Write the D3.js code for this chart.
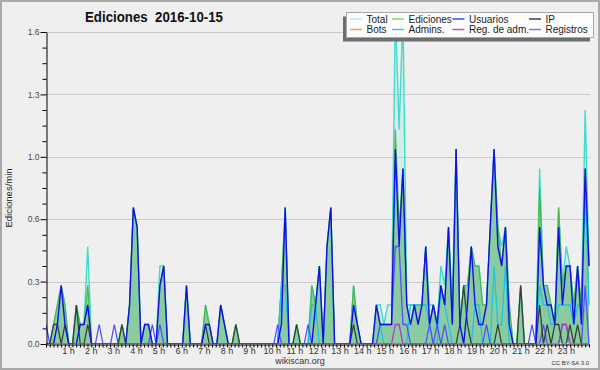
<!DOCTYPE html>
<html>
<head>
<meta charset="utf-8">
<script src="https://cdn.jsdelivr.net/npm/d3@7"></script>
<style>
body { margin: 0; background: #efeff0; }
svg { display: block; }
</style>
</head>
<body>
<div id="chart"></div>
<script>
const width = 600;
const height = 370;

// Edits counted per 10 minutes, one row per hour (0 h .. 23 h)
const total = [
  0,0,1,2,3,2,  0,0,2,1,1,5,  0,0,0,0,0,0,  0,0,1,0,2,7,
  6,0,1,1,0,0,  4,4,0,0,0,0,  0,3,0,0,0,0,  2,1,0,0,2,1,
  0,0,1,0,0,0,  0,0,0,0,0,0,  0,0,3,7,0,0,  1,0,0,0,3,2,
  4,0,5,7,0,0,  0,0,0,3,1,0,  0,0,0,2,2,1,  2,2,17,11,17,2,
  2,2,2,2,5,2,  2,1,4,3,6,2,  10,1,3,3,5,4, 4,2,2,6,10,6,
  5,6,2,0,0,3,  0,0,0,0,9,3,  3,2,1,7,3,5,  4,2,4,2,12,4
];
const ediciones = [
  0,0,1,2,3,2,  0,0,2,1,1,3,  0,0,0,0,0,0,  0,0,1,0,2,7,
  6,0,1,1,0,0,  3,4,0,0,0,0,  0,3,0,0,0,0,  2,1,0,0,2,1,
  0,0,1,0,0,0,  0,0,0,0,0,0,  0,0,3,7,0,0,  1,0,0,0,3,2,
  4,0,5,7,0,0,  0,0,0,3,1,0,  0,0,0,2,1,1,  1,1,11,6,9,2,
  1,2,2,2,5,1,  2,1,3,2,6,1,  10,1,3,3,5,4, 4,2,2,6,10,6,
  4,6,2,0,0,3,  0,0,0,0,8,3,  3,2,1,7,3,4,  4,2,4,2,9,4
];
const usuarios = [
  0,0,0,1,3,1,  0,0,0,1,1,2,  0,0,0,0,0,0,  0,0,0,0,2,7,
  6,0,1,1,0,0,  3,4,0,0,0,0,  0,3,0,0,0,0,  1,1,0,0,2,1,
  0,0,0,0,0,0,  0,0,0,0,0,0,  0,0,1,7,0,0,  0,0,0,0,0,2,
  4,0,5,7,0,0,  0,0,0,2,1,0,  0,0,0,2,1,1,  1,1,10,5,9,2,
  1,2,1,2,5,1,  2,1,3,2,6,1,  10,1,0,2,5,2, 1,1,2,6,10,5,
  4,6,1,0,0,0,  0,0,0,0,6,3,  2,2,1,6,2,4,  4,1,4,1,9,4
];
const ip = [
  0,0,1,1,0,1,  0,0,2,0,0,1,  0,0,0,0,0,0,  0,0,1,0,0,0,
  0,0,0,0,0,0,  0,0,0,0,0,0,  0,0,0,0,0,0,  1,0,0,0,0,0,
  0,0,1,0,0,0,  0,0,0,0,0,0,  0,0,0,0,0,0,  1,0,0,0,0,0,
  0,0,0,0,0,0,  0,0,0,1,0,0,  0,0,0,0,0,0,  0,0,0,0,0,0,
  0,0,0,0,0,0,  0,0,0,0,0,0,  0,1,3,1,0,0,  0,0,0,0,0,1,
  0,0,0,0,0,3,  0,0,0,0,2,0,  1,0,1,1,0,0,  1,0,1,0,0,0
];
const admins = [
  0,0,0,0,0,0,  0,0,0,0,0,0,  0,0,0,0,0,0,  0,0,0,0,0,0,
  0,0,0,0,0,0,  0,0,0,0,0,0,  0,0,0,0,0,0,  0,0,0,0,0,0,
  0,0,0,0,0,0,  0,0,0,0,0,0,  0,0,3,3,0,0,  0,0,0,0,2,2,
  0,0,0,0,0,0,  0,0,0,0,0,0,  0,0,0,0,1,0,  0,0,0,0,0,0,
  2,2,2,2,2,1,  0,0,3,2,1,0,  0,0,0,0,0,2,  2,0,0,0,4,1,
  1,4,0,0,0,0,  0,0,0,0,3,2,  2,1,1,2,2,2,  2,1,2,2,8,2
];
const regAdm = [
  0,0,0,0,0,0,  0,0,0,0,0,0,  0,0,0,0,0,0,  0,0,0,0,0,0,
  0,0,0,0,0,0,  0,0,0,0,0,0,  0,0,0,0,0,0,  0,0,0,0,0,0,
  0,0,0,0,0,0,  0,0,0,0,0,0,  0,0,0,0,0,0,  0,0,0,0,0,0,
  0,0,0,0,0,0,  0,0,0,0,0,0,  0,0,0,0,0,0,  0,0,1,1,0,0,
  0,0,0,0,0,0,  0,0,0,0,0,0,  0,0,0,0,0,0,  0,0,0,0,0,0,
  0,0,0,0,0,0,  0,0,0,0,0,0,  0,0,0,0,1,1,  0,0,0,0,0,0
];
const registros = [
  1,0,0,0,0,0,  0,0,0,0,0,0,  0,0,1,0,0,0,  1,0,0,0,0,0,
  0,0,0,0,1,0,  1,0,0,0,0,0,  0,0,0,0,0,0,  0,0,0,0,0,0,
  0,0,0,0,0,0,  0,0,0,0,0,0,  0,1,0,0,0,0,  0,0,0,1,0,0,
  0,0,0,0,0,0,  0,0,0,0,0,0,  0,0,0,0,1,1,  1,1,5,5,1,1,
  0,0,0,0,0,1,  0,1,0,1,0,0,  0,0,0,0,0,0,  0,0,1,0,0,0,
  0,0,0,0,0,0,  0,0,1,0,0,1,  0,0,0,0,1,1,  0,0,0,0,3,0
];

const hours = d3.range(1, 24);
const yTicks = [0, 0.32, 0.64, 0.96, 1.28, 1.6];
const yTickLabels = ["0.0", "0.3", "0.6", "1.0", "1.3", "1.6"];
const legendNames = ["Total", "Ediciones", "Usuarios", "IP", "Bots", "Admins.", "Reg. de adm.", "Registros"];
const legendColors = ["#aee9e2", "#7ccf7c", "#3a3aee", "#333333", "#ff9a33", "#3cc6dc", "#cc44dd", "#7272f0"];

// Define the scales
const plotLeft = 46, plotRight = 589, plotTop = 32, plotBottom = 344;
const x = d3.scaleLinear().domain([0, total.length - 1]).range([plotLeft, plotRight]);
const xh = d3.scaleLinear().domain([0, 24]).range([plotLeft, plotRight]);
const y = d3.scaleLinear().domain([0, 1.6]).range([plotBottom, plotTop]);
const perMin = n => n / 10;

const font = "'Liberation Sans', Arial, sans-serif";

const svg = d3.select("#chart").append("svg")
    .attr("width", width)
    .attr("height", height);

svg.append("rect")
    .attr("x", 1).attr("y", 1)
    .attr("width", width - 2).attr("height", height - 2)
    .attr("fill", "#efeff0")
    .attr("stroke", "#a9a9a9")
    .attr("stroke-width", 2);

svg.append("defs").append("clipPath").attr("id", "plotClip")
  .append("rect")
    .attr("x", plotLeft).attr("y", 0)
    .attr("width", plotRight - plotLeft + 1).attr("height", plotBottom - 0.4);

// grid
svg.append("g").selectAll("line")
    .data(yTicks.slice(1))
    .enter().append("line")
    .attr("x1", plotLeft).attr("x2", plotRight + 1)
    .attr("y1", d => Math.round(y(d)) + 0.5)
    .attr("y2", d => Math.round(y(d)) + 0.5)
    .attr("stroke", "#cacaca");

const plot = svg.append("g").attr("clip-path", "url(#plotClip)");

const area = d3.area()
    .x((d, i) => x(i))
    .y0(plotBottom)
    .y1(d => y(perMin(d)));

plot.append("path").datum(ediciones)
    .attr("d", area)
    .attr("fill", "#98c898");
plot.append("path").datum(total)
    .attr("d", area)
    .attr("fill", "#40e0d0")
    .attr("fill-opacity", 0.15);

const line = d3.line()
    .x((d, i) => x(i))
    .y(d => y(perMin(d)));

const series = [
    {data: total, color: "#3fdccb", w: 1.4},
    {data: ediciones, color: "#48b848", w: 1.2},
    {data: admins, color: "#1ec4e4", w: 1.3},
    {data: registros, color: "#5050ff", w: 1.3},
    {data: regAdm, color: "#b833cc", w: 1.3},
    {data: ip, color: "#334033", w: 1.3},
    {data: usuarios, color: "#1010e6", w: 1.4}
];

plot.selectAll(".series")
    .data(series)
    .enter().append("path")
    .attr("class", "series")
    .attr("d", d => line(d.data))
    .attr("fill", "none")
    .attr("stroke", d => d.color)
    .attr("stroke-width", d => d.w);

// y axis
const yAxis = svg.append("g")
    .attr("transform", `translate(${plotLeft + 0.5},0)`)
    .call(d3.axisLeft(y).tickValues(yTicks)
        .tickFormat((d, i) => yTickLabels[i])
        .tickSize(6).tickSizeOuter(0).tickPadding(1));
svg.append("g")
    .attr("transform", `translate(${plotLeft + 0.5},0)`)
    .call(d3.axisLeft(y)
        .tickValues(d3.range(1, 20).map(k => k * 0.08).filter(v => Math.round(v * 100) % 32 !== 0))
        .tickFormat("").tickSize(4).tickSizeOuter(0))
    .select(".domain").remove();
yAxis.selectAll("text")
    .attr("font-family", font)
    .attr("font-size", 8.5)
    .attr("fill", "#4a4a4a");

// x axis
svg.append("g")
    .attr("transform", `translate(0,${plotBottom + 0.5})`)
    .call(d3.axisBottom(xh).tickValues(d3.range(0, 145).map(k => k / 6))
        .tickFormat("").tickSize(3).tickSizeOuter(0));

svg.append("g").selectAll("text")
    .data(hours)
    .enter().append("text")
    .attr("x", d => xh(d))
    .attr("y", 353.5)
    .attr("text-anchor", "middle")
    .attr("font-family", font)
    .attr("font-size", 9)
    .attr("fill", "#333")
    .text(d => d + " h");

// titles
svg.append("text")
    .attr("x", 154).attr("y", 22)
    .attr("text-anchor", "middle")
    .attr("font-family", font)
    .attr("font-weight", "bold")
    .attr("font-size", 14)
    .attr("textLength", 138)
    .attr("lengthAdjust", "spacingAndGlyphs")
    .attr("fill", "#111")
    .style("white-space", "pre")
    .text("Ediciones  2016-10-15");

svg.append("text")
    .attr("transform", "translate(12,198) rotate(-90)")
    .attr("text-anchor", "middle")
    .attr("font-family", font)
    .attr("font-size", 9.5)
    .attr("fill", "#222")
    .text("Ediciones/min");

svg.append("text")
    .attr("x", 300).attr("y", 364)
    .attr("text-anchor", "middle")
    .attr("font-family", font)
    .attr("font-size", 9)
    .attr("fill", "#333")
    .text("wikiscan.org");

svg.append("text")
    .attr("x", 589).attr("y", 364.5)
    .attr("text-anchor", "end")
    .attr("font-family", font)
    .attr("font-size", 6)
    .attr("fill", "#333")
    .text("CC BY-SA 3.0");

// legend
const lx = 346, ly = 12, lw = 247, lh = 25;
svg.append("rect")
    .attr("x", lx - 3).attr("y", ly + 4.5)
    .attr("width", lw).attr("height", lh)
    .attr("fill", "#6e6e6e");
svg.append("rect")
    .attr("x", lx + 0.5).attr("y", ly + 0.5)
    .attr("width", lw).attr("height", lh)
    .attr("fill", "#fdfdfd")
    .attr("stroke", "#a6a6a6");

const colX = [350, 392, 452.5, 529];
const legend = svg.append("g").selectAll("g")
    .data(legendNames)
    .enter().append("g")
    .attr("transform", (d, i) => `translate(${colX[i % 4]},${i < 4 ? 19 : 29.5})`);
legend.append("line")
    .attr("x1", 0).attr("x2", 12)
    .attr("stroke", (d, i) => legendColors[i])
    .attr("stroke-width", 1.4);
legend.append("text")
    .attr("x", 16.5).attr("y", 3.6)
    .attr("font-family", font)
    .attr("font-size", 10)
    .attr("fill", "#222")
    .text(d => d);
</script>
</body>
</html>
